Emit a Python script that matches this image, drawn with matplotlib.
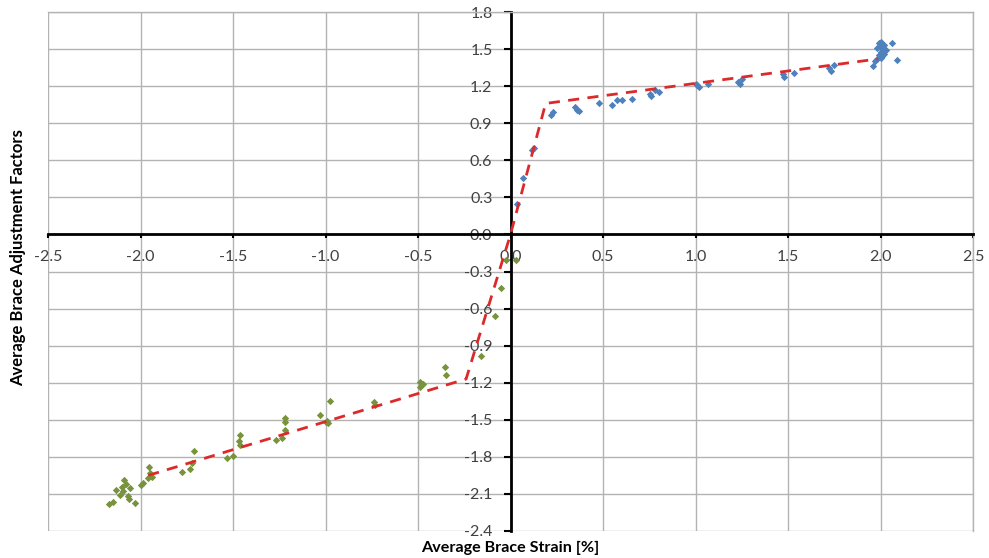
import matplotlib
matplotlib.use("Agg")
import matplotlib.pyplot as plt

# tension side (blue) - strain [%], adjustment factor
tens_x = [0.036, 0.068, 0.117, 0.125, 0.22, 0.23, 0.36, 0.35, 0.37, 0.477, 0.55, 0.575, 0.60,
          0.656, 0.755, 0.76, 0.80, 0.78, 1.0, 1.007, 1.02, 1.07, 1.23, 1.24, 1.25,
          1.475, 1.48, 1.53, 1.72, 1.73, 1.75, 1.96, 1.98, 1.99, 2.0, 2.0, 2.01, 2.02,
          1.99, 2.0, 2.03, 2.01, 1.98, 2.06, 2.09, 2.02, 1.97, 2.0]
tens_y = [0.245, 0.455, 0.687, 0.70, 0.963, 0.99, 1.008, 1.03, 0.995, 1.06, 1.047, 1.087, 1.09,
          1.095, 1.14, 1.12, 1.15, 1.17, 1.22, 1.21, 1.19, 1.22, 1.237, 1.22, 1.26,
          1.297, 1.27, 1.31, 1.35, 1.32, 1.37, 1.36, 1.42, 1.45, 1.48, 1.52, 1.50, 1.46,
          1.55, 1.56, 1.49, 1.44, 1.51, 1.547, 1.41, 1.53, 1.40, 1.43]

# compression side (green)
comp_x = [-0.027, 0.032, -0.054, -0.085, -0.157, -0.356, -0.35, -0.487, -0.49, -0.475,
          -0.74, -0.73, -0.975, -1.03, -0.984, -0.99, -1.0, -1.218, -1.218, -1.22, -1.236, -1.266,
          -1.462, -1.465, -1.46, -1.534, -1.50, -1.709, -1.724, -1.778, -1.73, -1.953, -1.95,
          -1.96, -1.986, -1.94, -2.094, -2.09, -2.148, -2.03, -2.07, -2.11, -2.056, -2.13,
          -2.10, -2.06, -2.17, -2.08, -2.0]
comp_y = [-0.203, -0.203, -0.437, -0.657, -0.985, -1.074, -1.14, -1.195, -1.235, -1.21,
          -1.356, -1.38, -1.35, -1.464, -1.53, -1.51, -1.52, -1.485, -1.517, -1.585, -1.65, -1.66,
          -1.62, -1.674, -1.706, -1.808, -1.79, -1.754, -1.853, -1.92, -1.90, -1.88, -1.934,
          -1.975, -2.014, -1.96, -2.08, -1.99, -2.162, -2.175, -2.12, -2.11, -2.055, -2.07,
          -2.04, -2.14, -2.18, -2.02, -2.03]

# bilinear fit
fit_x = [-1.958, -0.24, 0.0, 0.19, 1.985]
fit_y = [-1.95, -1.17, 0.0, 1.06, 1.42]

xticks = [-2.5, -2.0, -1.5, -1.0, -0.5, 0.0, 0.5, 1.0, 1.5, 2.0, 2.5]
yticks = [1.8, 1.5, 1.2, 0.9, 0.6, 0.3, 0.0, -0.3, -0.6, -0.9, -1.2, -1.5, -1.8, -2.1, -2.4]

plt.rcParams["font.family"] = ["Lato", "DejaVu Sans"]
plt.rcParams["axes.unicode_minus"] = False

fig = plt.figure(figsize=(9.89, 5.58), dpi=100)
ax = fig.add_axes([48 / 989, 27 / 558, 925 / 989, 519 / 558])

ax.scatter(tens_x, tens_y, marker="D", s=14, color="#4f81bd", zorder=3, linewidths=0)
ax.scatter(comp_x, comp_y, marker="D", s=14, color="#77933c", zorder=3, linewidths=0)
ax.plot(fit_x, fit_y, "--", color="#dc2a2a", lw=2, dashes=(4, 3), zorder=4)

ax.set_xlim(-2.5, 2.5)
ax.set_ylim(-2.4, 1.8)
ax.set_xticks(xticks)
ax.set_yticks(yticks)
ax.set_xticklabels([f"{v:.1f}" for v in xticks], family=["Open Sans", "DejaVu Sans"])
ax.set_yticklabels([f"{v:.1f}" for v in yticks], family=["Open Sans", "DejaVu Sans"])
ax.grid(color="#b3b3b3", lw=1)
ax.set_axisbelow(True)

ax.spines["left"].set_position(("data", 0))
ax.spines["bottom"].set_position(("data", 0))
for s in ("left", "bottom"):
    ax.spines[s].set_color("black")
    ax.spines[s].set_linewidth(2)
    ax.spines[s].set_zorder(2.5)
for s in ("top", "right"):
    ax.spines[s].set_color("#b3b3b3")
    ax.spines[s].set_linewidth(1)

ax.tick_params(axis="y", direction="out", length=5, width=1.5, color="black",
               labelsize=11.5, labelcolor="#404040", pad=8)
ax.tick_params(axis="x", direction="out", length=3, width=1.5, color="black",
               labelsize=11.5, labelcolor="#404040", pad=8)

fig.text(18 / 989, 1 - 258 / 558, "Average Brace Adjustment Factors", rotation=90,
         ha="center", va="center", fontsize=12, fontweight="bold")
fig.text(510 / 989, 1 - 548 / 558, "Average Brace Strain [%]", ha="center", va="center",
         fontsize=11.6, fontweight="bold")

fig.savefig("out.png", dpi=100)
